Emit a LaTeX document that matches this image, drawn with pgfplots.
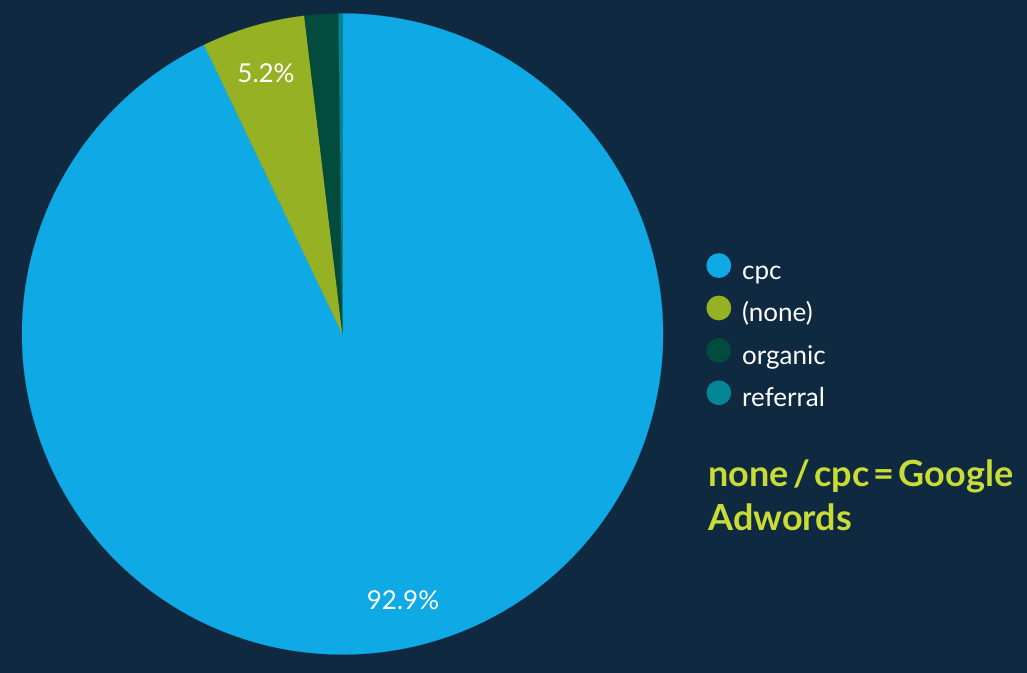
\documentclass[border=0pt]{standalone}
\usepackage{pgfplots}
\pgfplotsset{compat=1.18}
\usepackage{fontspec}
\setmainfont{Lato}
\definecolor{bg}{HTML}{0F2940}
\definecolor{cpcc}{HTML}{0FA9E6}
\definecolor{nonec}{HTML}{97B124}
\definecolor{orgc}{HTML}{034B3C}
\definecolor{refc}{HTML}{038694}
\definecolor{anno}{HTML}{C8DC35}
% shares in percent, clockwise from 12 o'clock
\def\vcpc{92.9}
\def\vnone{5.2}
\def\vorg{1.7}
\def\vref{0.2}
\newcommand{\tightsp}{\spaceskip=0.12em plus 0.05em\relax}
\begin{document}
\begin{tikzpicture}
\fill[bg] (0,0) rectangle (513.5pt,336.5pt);
\begin{axis}[x=0.5pt,y=0.5pt,xmin=0,xmax=1027,ymin=0,ymax=673,
  hide axis, clip=false,
  legend image code/.code={\fill[#1,draw=none] (6pt,3.5pt) circle (6.2pt);},
  legend style={at={(axis cs:706,340)},anchor=west,draw=none,fill=none,
    text=white,font=\fontsize{13}{15}\selectfont,inner sep=0pt,
    nodes={inner sep=0pt,text height=10pt,text depth=3pt},
    row sep=5pt, column sep=5.5pt},
  legend cell align=left]
\pgfmathsetmacro{\aA}{90}
\pgfmathsetmacro{\aB}{90-3.6*\vcpc}
\pgfmathsetmacro{\aC}{\aB-3.6*\vnone}
\pgfmathsetmacro{\aD}{\aC-3.6*\vorg}
\pgfmathsetmacro{\aE}{\aD-3.6*\vref}
\addplot[forget plot,fill=cpcc,draw=cpcc,line width=0.1pt,domain=\aB:\aA,samples=300,variable=\t]
  ({342.5+320.5*cos(\t)},{339+320.5*sin(\t)}) -- (axis cs:342.5,339) -- cycle;
\addplot[forget plot,fill=nonec,draw=nonec,line width=0.1pt,domain=\aC:\aB,samples=30,variable=\t]
  ({342.5+320.5*cos(\t)},{339+320.5*sin(\t)}) -- (axis cs:342.5,339) -- cycle;
\addplot[forget plot,fill=orgc,draw=orgc,line width=0.1pt,domain=\aD:\aC,samples=15,variable=\t]
  ({342.5+320.5*cos(\t)},{339+320.5*sin(\t)}) -- (axis cs:342.5,339) -- cycle;
\addplot[forget plot,fill=refc,draw=refc,line width=0.1pt,domain=\aE:\aD,samples=5,variable=\t]
  ({342.5+320.5*cos(\t)},{339+320.5*sin(\t)}) -- (axis cs:342.5,339) -- cycle;
\addlegendimage{fill=cpcc}\addlegendentry{cpc}
\addlegendimage{fill=nonec}\addlegendentry{(none)}
\addlegendimage{fill=orgc}\addlegendentry{organic}
\addlegendimage{fill=refc}\addlegendentry{referral}
\node[text=white,font=\fontsize{13}{15}\selectfont] at (axis cs:403,73) {92.9\%};
\node[text=white,font=\fontsize{13}{15}\selectfont] at (axis cs:266,600) {5.2\%};
\node[anchor=north west,inner sep=0pt,text=anno,align=left,
  font=\bfseries\fontsize{18}{22}\selectfont] at (axis cs:708,214)
  {\tightsp none / cpc = Google\\\tightsp Adwords};
\end{axis}
\end{tikzpicture}
\end{document}
